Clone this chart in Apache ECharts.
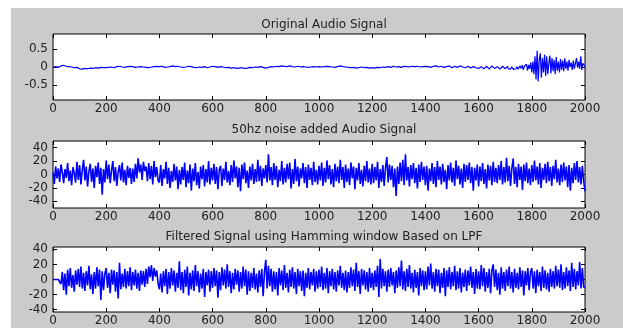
<!DOCTYPE html>
<html lang="en">
<head>
  <script src="https://cdn.jsdelivr.net/npm/echarts@6.0.0/dist/echarts.min.js"></script>
  <meta charset="UTF-8">
</head>
<body style="margin:0">
  <div id="audioChart" style="width: 623px;height:328px;"></div>

  <script type="text/javascript">

    // titles of the three panels
    var titles = ['Original Audio Signal', '50hz noise added Audio Signal', 'Filtered Signal using Hamming window Based on LPF'];

    // y tick labels per panel
    var yTicks1 = [-0.5, 0, 0.5];
    var yTicks2 = [-40, -20, 0, 20, 40];
    var yTicks3 = [-40, -20, 0, 20, 40];

    // original signal, samples 0..1700 every 10
    var origStep = 10;
    var origHead = [
      0, 0.01, -0.01, 0.03, 0.05, 0.02, 0.01, 0, -0.02, -0.01, -0.05, -0.06, -0.04, -0.05, -0.03, -0.04, -0.02, -0.03, -0.01, -0.02,
      -0.02, -0.01, 0, -0.02, 0.01, 0.02, 0, -0.01, 0.01, 0.02, 0.01, -0.01, 0, 0.01, 0, -0.01, -0.02, 0, 0.01, 0.02,
      0.01, 0.02, -0.01, 0, 0.01, 0.03, 0.01, 0.02, 0, -0.01, 0, 0.02, 0.01, -0.01, -0.02, 0, -0.01, 0.01, -0.02, 0,
      0.02, 0.01, -0.01, 0.01, 0, -0.02, -0.01, -0.03, -0.02, -0.04, -0.03, -0.02, -0.04, -0.03, -0.01, -0.02, 0, -0.01, 0.01, -0.01,
      -0.03, -0.01, 0.01, 0, 0.02, 0.01, 0.03, 0.02, 0.01, 0.03, 0.01, 0, 0.02, 0, 0.01, 0, -0.01, 0, 0.01, 0,
      0.01, 0, 0.01, 0.02, 0.01, 0, -0.01, 0.01, 0.03, 0.01, 0, -0.01, -0.02, -0.01, -0.03, -0.02, 0, -0.02, -0.01, -0.03,
      -0.02, -0.03, -0.01, -0.02, 0, -0.01, 0.01, -0.01, 0.02, 0, 0.01, -0.01, 0.02, 0.01, 0, 0.02, 0.01, 0.02, 0, 0.01,
      0.02, 0.01, -0.01, 0.02, 0.03, 0, 0.02, -0.01, 0.01, 0.03, -0.02, 0.02, -0.01, 0.03, 0, -0.02, 0.02, -0.03, 0.01, -0.02,
      -0.04, 0.01, -0.05, 0.02, -0.06, 0.03, -0.04, 0.01, -0.06, 0.02, -0.05
    ];

    // original signal, samples 1704..2000 every 4
    var tailStart = 1704;
    var tailStep = 4;
    var origTail = [
      -0.03, 0.02, -0.05, -0.01, -0.06, 0, -0.04, -0.07, -0.02, -0.05, 0.01, -0.06, -0.02, 0.03, -0.04, 0.05, -0.08, 0.02, -0.03, 0.08, -0.1, 0.06, -0.05, 0.12, -0.15,
      0.15, -0.2, 0.3, -0.35, 0.45, -0.4, 0.2, 0.38, -0.3, 0.25, -0.15, 0.35, -0.25, 0.3, -0.2, 0.1, 0.32, -0.18, 0.25, -0.12, 0.2, -0.2, 0.28, -0.1, 0.15,
      -0.15, 0.22, -0.08, 0.18, -0.12, 0.24, -0.05, 0.15, -0.1, 0.2, 0, 0.12, -0.08, 0.18, -0.05, 0.1, 0.25, -0.02, 0.15, -0.05, 0.3, -0.08, 0.1, 0.05, 0.02
    ];

    // noisy signals, samples 0..2000 every 5
    var noiseStep = 5;
    var noisy = [
      3, -14, 12, -6, 9, -11, 15, 4, -13, 8, -5, 17, -10, 6, -16, 11, 2, -12, 19, -8,
      14, -15, 7, 22, -9, 12, -18, 5, 16, -11, 9, -20, 13, -4, 18, -14, 10, -30, 8, -12,
      21, -7, 15, -13, 6, 20, -10, 11, -17, 4, 14, -9, 18, -12, 7, -16, 13, -5, 10, -14,
      9, -11, 16, -6, 24, 3, 15, -8, 19, 5, 12, -10, 17, -7, 13, -15, 20, -4, 11, -9,
      -12, 14, -17, 8, -6, 19, -14, 10, -20, 5, -11, 16, -9, 12, -22, 7, -15, 11, -8, 18,
      -19, 6, -13, 15, -24, 9, -10, 17, -16, 4, -21, 12, -7, 14, -18, 8, -12, 20, -15, 10,
      -9, 16, -14, 11, -22, 7, 13, -17, 9, -8, 19, -12, 5, -16, 14, -11, 21, -6, 12, -19,
      10, -25, 15, -7, 18, -13, 6, -20, 12, -9, 16, -14, 8, -11, 22, -10, 13, -17, 9, -6,
      14, -12, 30, -9, 11, -16, 17, -8, 13, -19, 7, -10, 20, -15, 10, -12, 16, -7, 18, -21,
      8, -14, 23, -10, 12, -18, 9, -6, 17, -13, 11, -20, 15, -8, 10, -16, 19, -11, 7, -15,
      13, -9, 18, -17, 10, -12, 21, -7, 14, -15, 8, -19, 16, -10, 12, -13, 22, -8, 11, -20,
      15, -11, 9, -16, 18, -6, 12, -22, 10, -9, 17, -14, 7, -18, 13, -10, 20, -12, 9, -15,
      16, -13, 11, -9, 19, -20, 8, -11, 14, -17, 10, 26, -12, 15, -8, 13, -19, 9, -32, 12,
      -14, 18, -10, 22, -16, 30, -9, 11, -18, 14, -7, 17, -13, 10, -21, 15, -11, 19, -8, 12,
      -16, 13, -24, 9, -10, 17, -14, 11, -19, 20, -8, 12, -15, 16, -11, 7, -22, 14, -9, 18,
      -12, 10, -17, 21, -7, 13, -15, 9, -20, 16, -11, 14, -8, 18, -13, 11, -24, 10, -9, 15,
      -18, 12, -10, 17, -14, 8, -21, 15, -9, 13, -16, 19, -11, 10, -13, 14, -8, 20, -15, 11,
      -12, 25, -10, 13, -17, 9, 24, -14, 11, -19, 16, -8, 12, -23, 15, -10, 18, -13, 9, -16,
      14, -11, 21, -9, 12, -15, 17, -20, 10, -8, 16, -13, 19, -10, 11, -17, 13, -7, 22, -12,
      9, -16, 15, -11, 18, -9, 12, -19, 14, -24, 10, -13, 17, -8, 20, -12, 11, -15, 13, -10,
      -25
    ];

    var filtered = [
      0, 0, 0, 0, 0, 0, -6, 10, -14, 8, -20, 13, -9, 15, -11, 6, -16, 12, -7, 14,
      -10, 17, -12, 9, -15, 11, -8, 18, -13, 7, -19, 10, -12, 16, -9, 13, -27, 11, -14, 8,
      15, -11, 9, -18, 13, -7, 12, -16, 10, -25, 22, -13, 8, -10, 14, -12, 11, -9, 16, -14,
      10, -8, 13, -12, 9, -15, 12, -7, 11, -10, 14, -6, 17, 3, 19, -2, 15, 4, 12, -5,
      -13, 8, -17, 11, -9, 14, -19, 10, -12, 15, -8, 12, -16, 9, -11, 24, -14, 10, -18, 13,
      -10, 17, -21, 9, -13, 12, -15, 19, -9, 11, -17, 8, -12, 14, -23, 10, -8, 13, -16, 11,
      -11, 15, -9, 12, -24, 10, -14, 16, -8, 13, -12, 20, -10, 11, -18, 9, -13, 14, -7, 12,
      -16, 10, -12, 17, -9, 13, -20, 11, -15, 9, -11, 15, -13, 8, -17, 12, -10, 14, -22, 10,
      26, -12, 18, -9, 14, -16, 11, -13, 10, -21, 15, -8, 12, -14, 19, -11, 9, -17, 13, -10,
      16, -12, 10, -19, 14, -9, 11, -15, 12, -22, 9, -11, 15, -13, 10, -8, 14, -16, 11, -12,
      13, -10, 17, -14, 9, -12, 15, -18, 11, -9, 14, -13, 10, -16, 12, -8, 18, -11, 9, -14,
      12, -17, 10, -11, 16, -9, 13, -15, 22, -10, 11, -19, 14, -8, 12, -13, 10, -16, 15, -11,
      9, -14, 12, -10, 18, -23, 27, -12, 14, -9, 11, -16, 13, -10, 15, -8, 10, -18, 12, -11,
      16, -9, 25, -13, 11, -15, 14, -10, 19, -12, 9, -17, 13, -11, 10, -21, 15, -9, 12, -14,
      11, -13, 17, -8, 21, -12, 10, -16, 14, -9, 13, -18, 9, -11, 15, -22, 12, -10, 16, -13,
      10, -9, 18, -14, 11, -12, 15, -17, 9, -10, 13, -15, 12, -8, 17, -11, 10, -19, 14, -12,
      11, -13, 19, -9, 15, -16, 10, -11, 14, -18, 12, 20, -10, 13, -14, 9, -20, 16, -12, 10,
      -15, 13, -9, 17, -12, 10, -17, 14, -11, 9, -13, 16, -10, 12, -21, 11, -8, 15, -14, 10,
      15, -12, 11, -18, 13, -9, 10, -15, 17, -11, 12, -13, 9, -16, 14, -10, 11, -12, 18, -9,
      13, -11, 20, -14, 10, -12, 16, -9, 12, -15, 22, -10, 14, -13, 11, -8, 23, -12, 15, -10,
      -11
    ];

    function toPairs(values, start, step) {
      return values.map((v, i) => [start + i * step, v]);
    }

    var origData = toPairs(origHead, 0, origStep).concat(toPairs(origTail, tailStart, tailStep));
    var noisyData = toPairs(noisy, 0, noiseStep);
    var filteredData = toPairs(filtered, 0, noiseStep);

    var font = 'DejaVu Sans, Arial, sans-serif';
    var gridBoxes = [
      { top: 34, height: 66 },
      { top: 141, height: 67 },
      { top: 247, height: 65 }
    ];
    var titleTops = [14, 119, 226];
    var yRanges = [[-0.92, 0.92], [-50, 50], [-43, 43]];
    var yTickSets = [yTicks1, yTicks2, yTicks3];
    var lineWidths = [1.2, 1.6, 1.6];

    function createAudioChart() {
      const chart = echarts.init(document.getElementById('audioChart'));

      let grids = [], xAxes = [], yAxes = [], titleList = [];
      gridBoxes.forEach((box, k) => {
        grids.push({
          left: 53, right: 38, top: box.top, height: box.height,
          show: true, backgroundColor: '#ffffff', borderColor: '#000000', borderWidth: 1
        });
        titleList.push({
          text: titles[k], left: 319, top: titleTops[k], textAlign: 'center',
          textStyle: { fontSize: 12, fontWeight: 'normal', color: '#222', fontFamily: font }
        });
        ['bottom', 'top'].forEach(pos => {
          xAxes.push({
            type: 'value', gridIndex: k, position: pos, min: 0, max: 2000, interval: 200,
            axisLine: { show: false, onZero: false },
            axisTick: { show: true, inside: true, length: 4, lineStyle: { color: '#000' } },
            axisLabel: {
              show: pos === 'bottom', fontSize: 12, color: '#222', margin: 3, fontFamily: font,
              formatter: v => String(v)
            },
            splitLine: { show: false }
          });
        });
        ['left', 'right'].forEach(pos => {
          yAxes.push({
            type: 'value', gridIndex: k, position: pos,
            min: yRanges[k][0], max: yRanges[k][1],
            axisLine: { show: false, onZero: false },
            axisTick: { show: true, inside: true, length: 4, customValues: yTickSets[k], lineStyle: { color: '#000' } },
            axisLabel: { show: pos === 'left', customValues: yTickSets[k], fontSize: 12, color: '#222', margin: 5, fontFamily: font },
            splitLine: { show: false }
          });
        });
      });

      let seriesData = [origData, noisyData, filteredData];
      let series = seriesData.map((d, k) => ({
        type: 'line', xAxisIndex: k * 2, yAxisIndex: k * 2, data: d,
        showSymbol: false, symbol: 'none', animation: false,
        lineStyle: { color: '#0000ff', width: lineWidths[k] }
      }));

      let option = {
        backgroundColor: '#cbcbcb',
        animation: false,
        title: titleList,
        grid: grids,
        xAxis: xAxes,
        yAxis: yAxes,
        series: series,
        graphic: [
          { type: 'rect', shape: { x: 0, y: 0, width: 623, height: 8 }, style: { fill: '#ffffff' } },
          { type: 'rect', shape: { x: 0, y: 0, width: 11, height: 328 }, style: { fill: '#ffffff' } }
        ]
      };

      chart.setOption(option);
    }
    createAudioChart();
  </script>
</body>
</html>
